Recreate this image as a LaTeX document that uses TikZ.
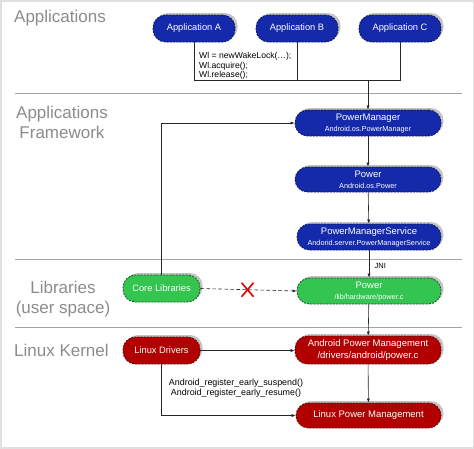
\documentclass[tikz,border=0pt]{standalone}
\usepackage{fontspec}
\setmainfont{Liberation Sans}
\usetikzlibrary{arrows.meta}
\definecolor{nblue}{RGB}{20,42,170}
\definecolor{nblueb}{RGB}{10,20,90}
\definecolor{ngreen}{RGB}{52,196,80}
\definecolor{ngreenb}{RGB}{25,80,35}
\definecolor{nred}{RGB}{178,0,0}
\definecolor{nredb}{RGB}{90,0,0}
\definecolor{titlegray}{RGB}{140,140,140}
\definecolor{sepgray}{RGB}{165,165,165}
\definecolor{shadowgray}{RGB}{195,195,195}
\begin{document}
\begin{tikzpicture}[x=1pt,y=-1pt,
  pill/.style={rounded corners=12.5pt, minimum height=26pt, inner sep=0pt, align=center,
    text=white, dashed, dash pattern=on 2pt off 1.2pt, line width=0.8pt,
    preaction={fill=shadowgray, draw=none, transform canvas={xshift=2.5pt,yshift=2pt}}},
  bluepill/.style={pill, fill=nblue, draw=nblueb},
  greenpill/.style={pill, fill=ngreen, draw=ngreenb},
  redpill/.style={pill, fill=nred, draw=nredb},
  main/.style={font=\fontsize{9.3}{10}\selectfont},
  sub/.style={font=\fontsize{7.2}{8}\selectfont},
  title/.style={font=\fontsize{17}{20}\selectfont, text=titlegray, align=center, inner sep=0pt},
  sep/.style={draw=sepgray, line width=0.8pt},
  conn/.style={draw=black!85, line width=0.6pt},
  arr/.style={conn, -{Latex[length=4pt,width=3.2pt]}},
  note/.style={font=\fontsize{8.6}{9.6}\selectfont, align=left, inner sep=0pt},
]
\useasboundingbox (0,0) rectangle (474,448);
\fill[white] (0,0) rectangle (474,448);
\draw[draw=black!12, line width=3pt] (0,0) rectangle (474,448);

% section titles
\node[title, anchor=west] (tApp) at (14,18) {Applications};
\node[title] (tFw) at (62,122) {Applications\\Framework};
\node[title] (tLib) at (63,299) {Libraries\\(user space)};
\node[title, anchor=west] (tKer) at (14,350) {Linux Kernel};

% separators
\coordinate (s1a) at (15,93); \coordinate (s1b) at (462,93);
\coordinate (s2a) at (15,259); \coordinate (s2b) at (462,259);
\coordinate (s3a) at (15,327); \coordinate (s3b) at (462,327);
\draw[sep] (s1a) -- (s1b);
\draw[sep] (s2a) -- (s2b);
\draw[sep] (s3a) -- (s3b);

% nodes
\node[bluepill, main, minimum width=82pt, minimum height=27pt] (appA) at (194,28.5) {Application A};
\node[bluepill, main, minimum width=82pt, minimum height=27pt] (appB) at (297,28.5) {Application B};
\node[bluepill, main, minimum width=82pt, minimum height=27pt] (appC) at (400,28.5) {Application C};

\node[bluepill, minimum width=146pt] (pm) at (368,123) {{\fontsize{9.5}{10}\selectfont PowerManager}\\[-1pt]{\fontsize{7.3}{8}\selectfont Android.os.PowerManager}};
\node[bluepill, minimum width=146pt, minimum height=25pt] (pw) at (368,179.5) {{\fontsize{9.5}{10}\selectfont Power}\\[-1pt]{\fontsize{7.3}{8}\selectfont Android.os.Power}};
\node[bluepill, minimum width=144pt] (pms) at (369,237) {{\fontsize{9.5}{10}\selectfont PowerManagerService}\\[-1pt]{\fontsize{7.3}{8}\selectfont Andorid.server.PowerManagerService}};

\node[greenpill, main, minimum width=77pt, minimum height=27pt] (core) at (161.5,288.5) {Core Libraries};
\node[greenpill, minimum width=144pt] (pwr) at (369,291) {{\fontsize{9.5}{10}\selectfont Power}\\[-1pt]{\fontsize{7.3}{8}\selectfont /lib/hardware/power.c}};

\node[redpill, main, minimum width=77pt, minimum height=27pt] (drv) at (161.5,350.5) {Linux Drivers};
\node[redpill, minimum width=146pt, minimum height=28pt, font=\fontsize{9.5}{11.5}\selectfont] (apm) at (368,350) {Android Power Management\\/drivers/android/power.c};
\node[redpill, main, minimum width=145pt, minimum height=25pt, font=\fontsize{9.5}{10}\selectfont] (lpm) at (368.5,415.5) {Linux Power Management};

% application bus
\coordinate (bus) at (368,80);
\draw[conn] (appA.south) |- (appC.south |- bus) -- (appC.south);
\draw[conn] (appB.south) -- (appB.south |- bus);
\draw[arr] (pm.north |- bus) -- (pm.north);
\node[note, anchor=north west] (wl) at (199,52) {Wl = newWakeLock(…);\\Wl.acquire();\\Wl.release();};

% framework chain
\draw[arr] (pm) -- (pw);
\draw[arr] (pw) -- (pms);
\draw[arr] (pms) -- node[right, font=\fontsize{7.5}{8}\selectfont, xshift=2pt, yshift=-2pt] {JNI} (pwr);

% core libraries
\draw[arr] (core.north) |- (pm.west);
\draw[arr, dashed, dash pattern=on 3.5pt off 2.5pt] (core.east) -- coordinate[pos=0.49] (xm) (pwr.west);
\draw[red!90!black, line width=1.6pt] ([xshift=-6pt,yshift=-7pt]xm) -- ([xshift=6pt,yshift=7pt]xm);
\draw[red!90!black, line width=1.6pt] ([xshift=-6pt,yshift=7pt]xm) -- ([xshift=6pt,yshift=-7pt]xm);

% kernel
\draw[arr] (pwr) -- (apm);
\draw[arr] (drv.east) -- (drv.east -| apm.west);
\draw[arr] (apm) -- (lpm);
\draw[arr] (drv.south) |- (lpm.west);
\node[font=\fontsize{8.9}{10.2}\selectfont, align=center, inner sep=0pt] (reg) at (236,388) {Android\_register\_early\_suspend()\\Android\_register\_early\_resume()};
\end{tikzpicture}
\end{document}
